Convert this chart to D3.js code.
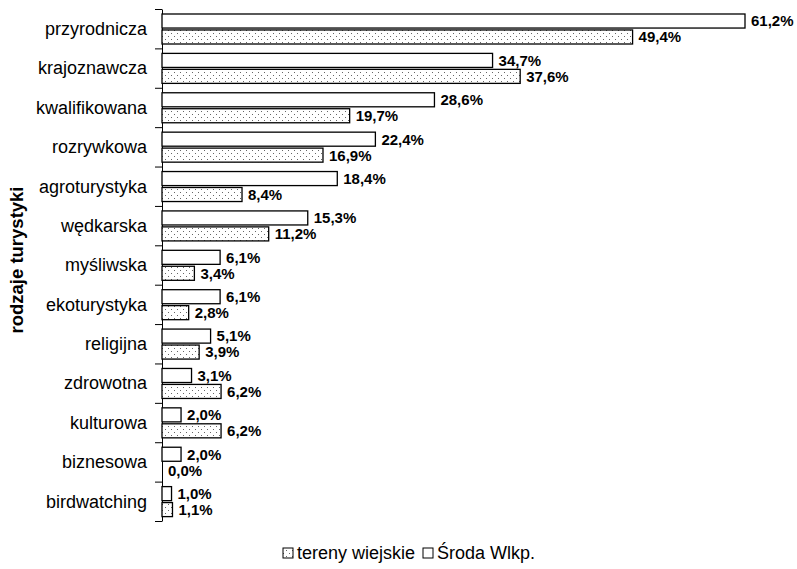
<!DOCTYPE html>
<html>
<head>
<meta charset="utf-8">
<script src="https://cdn.jsdelivr.net/npm/d3@7"></script>
<style>
  body { margin: 0; background: #fff; }
  text { font-family: "Liberation Sans", Arial, sans-serif; }
</style>
</head>
<body>
<div id="chart"></div>
<script>
// data
const categories = ["przyrodnicza", "krajoznawcza", "kwalifikowana", "rozrywkowa", "agroturystyka",
  "wędkarska", "myśliwska", "ekoturystyka", "religijna", "zdrowotna", "kulturowa", "biznesowa", "birdwatching"];
const sroda = [61.2, 34.7, 28.6, 22.4, 18.4, 15.3, 6.1, 6.1, 5.1, 3.1, 2.0, 2.0, 1.0];
const wiejskie = [49.4, 37.6, 19.7, 16.9, 8.4, 11.2, 3.4, 2.8, 3.9, 6.2, 6.2, 0.0, 1.1];
const seriesNames = ["Środa Wlkp.", "tereny wiejskie"];

const width = 797, height = 569;
const plotTop = 9, plotBottom = 521, plotLeft = 162;

const svg = d3.select("#chart").append("svg")
  .attr("width", width)
  .attr("height", height);

// dotted fill
const pat = svg.append("defs").append("pattern")
  .attr("id", "dots")
  .attr("patternUnits", "userSpaceOnUse")
  .attr("width", 6).attr("height", 6);
pat.append("rect").attr("width", 6).attr("height", 6).attr("fill", "#fff");
pat.append("rect").attr("x", 0).attr("y", 0).attr("width", 1).attr("height", 1).attr("fill", "#666");
pat.append("rect").attr("x", 3).attr("y", 3).attr("width", 1).attr("height", 1).attr("fill", "#666");

const x = d3.scaleLinear().domain([0, 61.2]).range([plotLeft, 745]);
const y = d3.scaleBand().domain(categories).range([plotTop, plotBottom]);
const sub = d3.scaleBand().domain(seriesNames).range([5, 35]).paddingInner(0.12);

// ticks on band boundaries
const yTicks = d3.scaleLinear().domain([0, categories.length]).range([plotTop, plotBottom]);
svg.append("g")
  .attr("transform", "translate(" + plotLeft + ",0)")
  .call(d3.axisLeft(yTicks).tickValues(d3.range(categories.length + 1)).tickFormat("").tickSize(7).tickSizeOuter(0))
  .call(g => g.selectAll("line").attr("stroke", "#000"))
  .call(g => g.select(".domain").attr("stroke", "#000"));

// category labels
svg.append("g").selectAll("text")
  .data(categories)
  .join("text")
  .attr("x", 147)
  .attr("y", d => y(d) + y.bandwidth() / 2)
  .attr("dy", "0.35em")
  .attr("text-anchor", "end")
  .style("font-size", "18px")
  .text(d => d);

const rows = [];
categories.forEach((c, i) => {
  rows.push({ cat: c, s: seriesNames[0], v: sroda[i] });
  rows.push({ cat: c, s: seriesNames[1], v: wiejskie[i] });
});

svg.append("g").selectAll("rect")
  .data(rows.filter(d => d.v > 0))
  .join("rect")
  .attr("x", x(0))
  .attr("y", d => y(d.cat) + sub(d.s))
  .attr("width", d => x(d.v) - x(0))
  .attr("height", sub.bandwidth())
  .attr("fill", d => d.s === seriesNames[0] ? "#fff" : "url(#dots)")
  .attr("stroke", "#000")
  .attr("stroke-width", 1.3);

svg.append("g").selectAll("text")
  .data(rows)
  .join("text")
  .attr("x", d => x(d.v) + 6)
  .attr("y", d => y(d.cat) + sub(d.s) + sub.bandwidth() / 2)
  .attr("dy", "0.36em")
  .style("font-size", "15px")
  .style("font-weight", "bold")
  .text(d => d.v.toFixed(1).replace(".", ",") + "%");

// axis title
svg.append("text")
  .attr("transform", "translate(23,260) rotate(-90)")
  .attr("text-anchor", "middle")
  .style("font-size", "18.5px")
  .style("font-weight", "bold")
  .text("rodzaje turystyki");

// legend
const legend = [
  { name: seriesNames[1], fill: "url(#dots)", x: 283 },
  { name: seriesNames[0], fill: "#fff", x: 423 }
];
const lg = svg.append("g").selectAll("g")
  .data(legend)
  .join("g")
  .attr("transform", d => "translate(" + d.x + ",553)");
lg.append("rect")
  .attr("x", 0).attr("y", -5)
  .attr("width", 10).attr("height", 10)
  .attr("fill", d => d.fill)
  .attr("stroke", "#000");
lg.append("text")
  .attr("x", 14).attr("y", 0)
  .attr("dy", "0.35em")
  .style("font-size", "18px")
  .text(d => d.name);
</script>
</body>
</html>
